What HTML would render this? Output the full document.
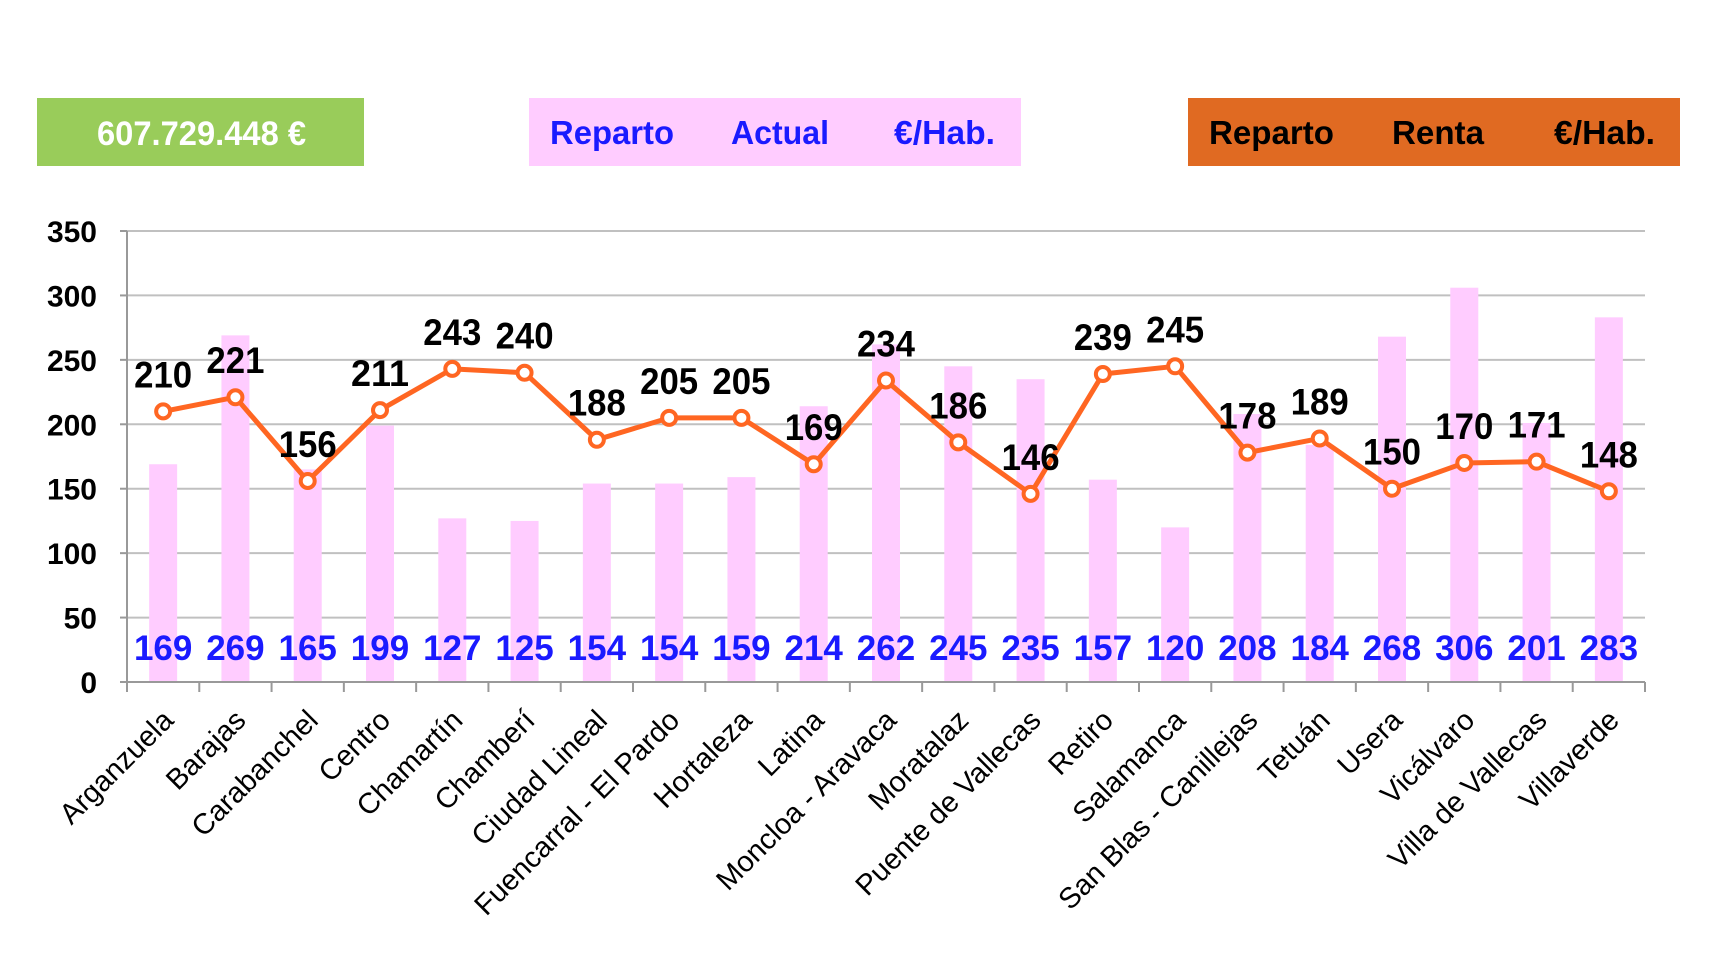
<!DOCTYPE html>
<html><head><meta charset="utf-8"><style>
body{margin:0;background:#fff;width:1717px;height:963px;overflow:hidden;font-family:"Liberation Sans",sans-serif}
svg{position:absolute;left:0;top:0}
</style></head><body>
<svg width="1717" height="963">
<g id="header">
<rect x="37" y="98" width="327" height="68" fill="#99cc5a"/>
<text x="97" y="145" font-size="34" font-weight="bold" fill="#fff" textLength="209" lengthAdjust="spacingAndGlyphs">607.729.448 €</text>
<rect x="529" y="98" width="492" height="68" fill="#ffccff"/>
<g font-size="33" font-weight="bold" fill="#1a1aff">
<text x="550" y="144" textLength="124" lengthAdjust="spacingAndGlyphs">Reparto</text>
<text x="731" y="144" textLength="98" lengthAdjust="spacingAndGlyphs">Actual</text>
<text x="894" y="144" textLength="101" lengthAdjust="spacingAndGlyphs">€/Hab.</text>
</g>
<rect x="1188" y="98" width="492" height="68" fill="#e06a22"/>
<g font-size="33" font-weight="bold" fill="#000">
<text x="1209" y="144" textLength="125" lengthAdjust="spacingAndGlyphs">Reparto</text>
<text x="1392" y="144" textLength="92" lengthAdjust="spacingAndGlyphs">Renta</text>
<text x="1554" y="144" textLength="101" lengthAdjust="spacingAndGlyphs">€/Hab.</text>
</g>
</g>
<g id="plot"></g>
</svg>
<script>
const categories=["Arganzuela","Barajas","Carabanchel","Centro","Chamartín","Chamberí","Ciudad Lineal","Fuencarral - El Pardo","Hortaleza","Latina","Moncloa - Aravaca","Moratalaz","Puente de Vallecas","Retiro","Salamanca","San Blas - Canillejas","Tetuán","Usera","Vicálvaro","Villa de Vallecas","Villaverde"];
const actualValues=[169,269,165,199,127,125,154,154,159,214,262,245,235,157,120,208,184,268,306,201,283];
const rentaValues=[210,221,156,211,243,240,188,205,205,169,234,186,146,239,245,178,189,150,170,171,148];
const yTicks=[0,50,100,150,200,250,300,350];

const X0=127,X1=1645,Y0=682,YT=231,YMAX=350;
const bw=(X1-X0)/categories.length;
const xc=i=>X0+bw*(i+0.5);
const y=v=>Y0-(v/YMAX)*(Y0-YT);
const NS="http://www.w3.org/2000/svg";
const plot=document.getElementById('plot');
function mk(tag,attrs,parent){const e=document.createElementNS(NS,tag);for(const k in attrs)e.setAttribute(k,attrs[k]);(parent||plot).appendChild(e);return e;}

yTicks.forEach(t=>{
  if(t>0){const g=mk('line',{x1:X0,x2:X1,y1:y(t),y2:y(t),stroke:'#c0c0c0','stroke-width':2});
  
  }
  const tk=mk('line',{x1:X0-7,x2:X0,y1:y(t),y2:y(t),stroke:'#999','stroke-width':2});
  
  
  const l=mk('text',{x:X0-30,y:y(t)+11,'text-anchor':'end','font-size':30,'font-weight':'bold',fill:'#000'});
  l.textContent=t;
  
  
});
categories.forEach((c,i)=>{
  const b=mk('rect',{x:xc(i)-14,y:y(actualValues[i]),width:28,height:Y0-y(actualValues[i]),fill:'#ffccff'});
  
  
});
const ax=mk('line',{x1:X0,x2:X0,y1:YT,y2:Y0,stroke:'#999','stroke-width':2});


const xa=mk('line',{x1:X0,x2:X1,y1:Y0,y2:Y0,stroke:'#999','stroke-width':2});


for(let i=0;i<=categories.length;i++){
  const t=mk('line',{x1:X0+bw*i,x2:X0+bw*i,y1:Y0,y2:Y0+10,stroke:'#999','stroke-width':2});
  
  
}
categories.forEach((c,i)=>{
  const v=mk('text',{x:xc(i),y:660,'text-anchor':'middle','font-size':35,'font-weight':'bold',fill:'#1a1aff'});
  v.textContent=actualValues[i];
  
  
  const l=mk('text',{x:xc(i)+12,y:722,'text-anchor':'end','font-size':29,fill:'#000',transform:`rotate(-45 ${xc(i)+12} 722)`});
  l.textContent=c;
  
  
});
const pts=rentaValues.map((v,i)=>xc(i)+','+y(v)).join(' ');
const line=mk('polyline',{points:pts,fill:'none',stroke:'#ff6622','stroke-width':5,'stroke-linejoin':'round'});


rentaValues.forEach((v,i)=>{
  const p=mk('circle',{cx:xc(i),cy:y(v),r:7,fill:'#fff',stroke:'#ff6622','stroke-width':4});
  
  
  const t=mk('text',{x:xc(i),y:y(v)-24,'text-anchor':'middle','font-size':37,'font-weight':'bold',fill:'#000',textLength:58,lengthAdjust:'spacingAndGlyphs'});
  t.textContent=v;
  
  
});
</script>
</body></html>
